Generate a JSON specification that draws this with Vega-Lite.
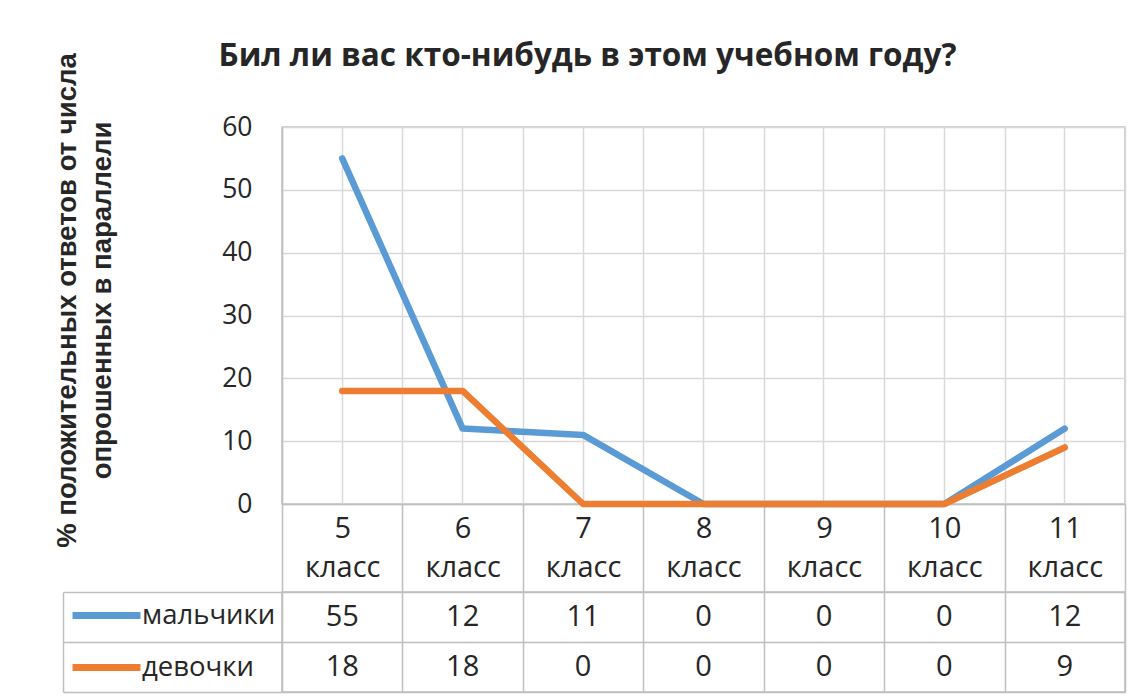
{
  "$schema": "https://vega.github.io/schema/vega-lite/v6.json",
  "padding": {"left": 52, "top": 41, "right": 5, "bottom": 5},
  "background": "white",
  "config": {
    "font": "Open Sans",
    "view": {"stroke": "#BFBFBF", "strokeWidth": 1.5},
    "axis": {"gridColor": "#D9D9D9", "gridWidth": 1.5, "domainColor": "#BFBFBF", "domainWidth": 1.5, "tickColor": "#BFBFBF", "tickWidth": 1.5, "labelColor": "#262626", "labelFont": "Open Sans"}
  },
  "datasets": {
    "d": [
      {"class": "5 класс", "series": "мальчики", "value": 55},
      {"class": "6 класс", "series": "мальчики", "value": 12},
      {"class": "7 класс", "series": "мальчики", "value": 11},
      {"class": "8 класс", "series": "мальчики", "value": 0},
      {"class": "9 класс", "series": "мальчики", "value": 0},
      {"class": "10 класс", "series": "мальчики", "value": 0},
      {"class": "11 класс", "series": "мальчики", "value": 12},
      {"class": "5 класс", "series": "девочки", "value": 18},
      {"class": "6 класс", "series": "девочки", "value": 18},
      {"class": "7 класс", "series": "девочки", "value": 0},
      {"class": "8 класс", "series": "девочки", "value": 0},
      {"class": "9 класс", "series": "девочки", "value": 0},
      {"class": "10 класс", "series": "девочки", "value": 0},
      {"class": "11 класс", "series": "девочки", "value": 9}
    ]
  },
  "title": {"text": "Бил ли вас кто-нибудь в этом учебном году?", "font": "Open Sans", "fontSize": 31.5, "fontWeight": "bold", "color": "#262626", "frame": "group", "anchor": "middle", "offset": -21, "dx": -116},
  "spacing": 88,
  "bounds": "flush",
  "vconcat": [
    {
      "width": 843,
      "height": 377,
      "data": {"name": "d"},
      "layer": [
        {
          "transform": [{"filter": "datum.series === 'мальчики'"}],
          "mark": {"type": "line", "strokeWidth": 6.5, "strokeCap": "round", "strokeJoin": "round"},
          "encoding": {
            "x": {"field": "class", "type": "nominal", "bandPosition": 0.5,
                  "scale": {"type": "band", "domain": ["5 класс", "6 класс", "7 класс", "8 класс", "9 класс", "10 класс", "11 класс"], "paddingInner": 0, "paddingOuter": 0},
                  "axis": {"orient": "bottom", "title": null, "tickBand": "extent", "grid": true, "ticks": true, "tickSize": 88, "domain": true, "labelAngle": 0, "labelFontSize": 29, "labelExpr": "split(datum.label, ' ')", "labelLineHeight": 39, "labelPadding": -78, "labelBaseline": "top"}},
            "y": {"field": "value", "type": "quantitative", "scale": {"domain": [0, 60]},
                  "axis": {"title": ["% положительных ответов от числа", "опрошенных в параллели"], "values": [0, 10, 20, 30, 40, 50, 60], "ticks": false, "domain": true, "labelFontSize": 26.5, "labelPadding": 30, "titleFont": "Liberation Sans", "titleFontSize": 27.5, "titleFontWeight": "bold", "titleColor": "#262626", "titleLineHeight": 35, "titlePadding": 105, "titleY": 173}},
            "color": {"field": "series", "type": "nominal",
                      "scale": {"domain": ["мальчики", "девочки"], "range": ["#5B9BD5", "#ED7D31"]},
                      "legend": {"title": null, "orient": "none", "legendX": -213, "legendY": 451, "symbolType": "stroke", "symbolSize": 4624, "symbolStrokeWidth": 7, "labelFontSize": 27.5, "labelColor": "#262626", "labelFont": "Open Sans", "labelOffset": -2, "padding": 0, "rowPadding": -28, "direction": "vertical", "labelLimit": 300}}
          }
        },
        {
          "transform": [{"filter": "datum.series === 'девочки'"}],
          "mark": {"type": "line", "strokeWidth": 6.5, "strokeCap": "round", "strokeJoin": "round"},
          "encoding": {
            "x": {"field": "class", "type": "nominal", "bandPosition": 0.5,
                  "scale": {"type": "band", "domain": ["5 класс", "6 класс", "7 класс", "8 класс", "9 класс", "10 класс", "11 класс"], "paddingInner": 0, "paddingOuter": 0},
                  "axis": {"orient": "top", "title": null, "grid": true, "ticks": false, "labels": false, "domain": false}},
            "y": {"field": "value", "type": "quantitative"},
            "color": {"field": "series", "type": "nominal"}
          }
        }
      ],
      "resolve": {"scale": {"x": "independent"}, "axis": {"x": "independent"}}
    },
    {
      "width": 843,
      "height": 100,
      "data": {"name": "d"},
      "layer": [
        {
          "mark": {"type": "text", "fontSize": 29, "color": "#262626", "font": "Open Sans", "baseline": "middle", "align": "center"},
          "encoding": {
            "x": {"field": "class", "type": "nominal", "bandPosition": 0.5,
                  "scale": {"type": "band", "domain": ["5 класс", "6 класс", "7 класс", "8 класс", "9 класс", "10 класс", "11 класс"], "paddingInner": 0, "paddingOuter": 0},
                  "axis": {"title": null, "orient": "bottom", "tickBand": "extent", "grid": true, "gridColor": "#BFBFBF", "labels": false, "ticks": false, "domain": false}},
            "y": {"field": "series", "type": "nominal", "bandPosition": 0.5,
                  "scale": {"type": "band", "domain": ["мальчики", "девочки"], "paddingInner": 0, "paddingOuter": 0},
                  "axis": {"title": null, "tickBand": "extent", "ticks": true, "tickSize": 219, "labels": false, "domain": false, "grid": true, "gridColor": "#BFBFBF"}},
            "text": {"field": "value", "type": "quantitative"}
          }
        },
        {
          "mark": {"type": "point", "opacity": 0},
          "encoding": {
            "x": {"field": "class", "type": "nominal"},
            "y": {"field": "series", "type": "nominal",
                  "scale": {"type": "band", "domain": ["мальчики", "девочки"], "paddingInner": 0, "paddingOuter": 0},
                  "axis": {"orient": "left", "offset": 219, "title": null, "labels": false, "ticks": false, "grid": false, "domain": true}}
          }
        }
      ],
      "resolve": {"scale": {"y": "independent"}, "axis": {"y": "independent"}}
    }
  ]
}
